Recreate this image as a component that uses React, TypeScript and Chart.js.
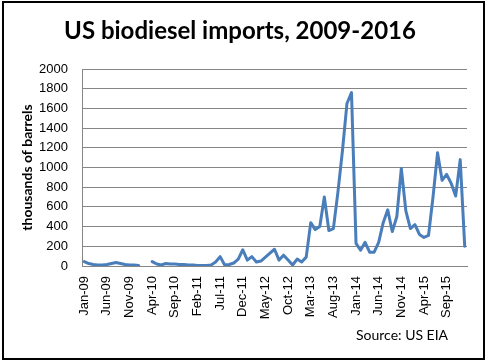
import React, { useEffect, useRef } from "react";
import { Chart, registerables } from "chart.js";

Chart.register(...registerables);

const monthNames = ["Jan", "Feb", "Mar", "Apr", "May", "Jun", "Jul", "Aug", "Sep", "Oct", "Nov", "Dec"];
const yearSuffixes = ["09", "10", "11", "12", "13", "14", "15", "16"];
const monthCount = 85; // Jan-09 .. Jan-16

const categories: string[] = [];
for (let i = 0; i < monthCount; i++) {
  categories.push(monthNames[i % 12] + "-" + yearSuffixes[Math.floor(i / 12)]);
}

// thousands of barrels per month
const imports: (number | null)[] = [
  // 2009
  45, 25, 15, 10, 10, 15, 25, 35, 25, 15, 10, 10,
  // 2010
  5, null, null, 45, 20, 10, 25, 20, 20, 15, 15, 10,
  // 2011
  10, 5, 5, 5, 10, 40, 95, 10, 15, 30, 70, 165,
  // 2012
  60, 95, 40, 50, 90, 130, 170, 60, 110, 60, 10, 70,
  // 2013
  40, 90, 440, 370, 400, 700, 360, 380, 750, 1170, 1650, 1760,
  // 2014
  230, 160, 240, 140, 140, 240, 440, 570, 350, 500, 990, 560,
  // 2015
  380, 420, 320, 290, 310, 700, 1150, 870, 930, 840, 710, 1080,
  // 2016
  200,
];

const yMin = 0;
const yMax = 2000;
const yStep = 200;
const labelEvery = 5;

const titleText = "US biodiesel imports, 2009-2016";
const yAxisTitle = "thousands of barrels";
const sourceText = "Source: US EIA";

const decorPlugin = {
  id: "decor",
  beforeDraw(chart: any) {
    const ctx = chart.ctx;
    ctx.save();
    ctx.fillStyle = "#ffffff";
    ctx.fillRect(0, 0, chart.width, chart.height);
    ctx.restore();
  },
  afterDraw(chart: any) {
    const ctx = chart.ctx;
    ctx.save();
    ctx.strokeStyle = "#000000";
    ctx.lineWidth = 2;
    ctx.strokeRect(3, 2, 481, 357);
    ctx.fillStyle = "#000000";
    ctx.textAlign = "center";
    ctx.textBaseline = "middle";
    ctx.font = "bold 24px Lato";
    ctx.fillText(titleText, 240, 31);
    ctx.font = "14px Lato";
    ctx.textAlign = "left";
    ctx.fillText(sourceText, 356, 335);
    ctx.restore();
  },
};

export default function App() {
  const canvasRef = useRef<HTMLCanvasElement | null>(null);

  useEffect(() => {
    document.body.style.margin = "0";
    const canvas = canvasRef.current;
    if (!canvas) return;
    const chart = new Chart(canvas, {
      type: "line",
      data: {
        labels: categories,
        datasets: [
          {
            data: imports,
            borderColor: "#4A7EBB",
            backgroundColor: "#4A7EBB",
            borderWidth: 3,
            pointRadius: 0,
            tension: 0,
            spanGaps: false,
            borderJoinStyle: "round",
            borderCapStyle: "round",
          },
        ],
      },
      options: {
        responsive: false,
        animation: false,
        events: [],
        layout: { padding: { left: 0, right: 21, top: 69, bottom: 0 } },
        plugins: {
          legend: { display: false },
          tooltip: { enabled: false },
          title: { display: false },
        },
        scales: {
          x: {
            type: "category",
            offset: true,
            grid: { display: false, drawTicks: false },
            border: { display: true, color: "#868686", width: 1 },
            ticks: {
              autoSkip: false,
              maxRotation: 90,
              minRotation: 90,
              padding: 10,
              color: "#000000",
              font: { family: "Liberation Sans", size: 13 },
              callback: (_v: any, idx: number) => (idx % labelEvery === 0 ? categories[idx] : null),
            },
            afterFit: (scale: any) => {
              scale.height = 97;
            },
          },
          y: {
            min: yMin,
            max: yMax,
            grid: { color: "#868686", lineWidth: 1, drawTicks: false },
            border: { display: true, color: "#868686", width: 1 },
            ticks: {
              stepSize: yStep,
              padding: 14,
              color: "#000000",
              font: { family: "Liberation Sans", size: 13 },
              callback: (v: any) => String(v),
            },
            title: {
              display: true,
              text: yAxisTitle,
              color: "#000000",
              font: { family: "Lato", size: 14, weight: "bold" },
              padding: { top: 19, bottom: 0 },
            },
            afterFit: (scale: any) => {
              scale.width = 82;
            },
          },
        },
      },
      plugins: [decorPlugin],
    });
    return () => chart.destroy();
  }, []);

  return <canvas ref={canvasRef} width={488} height={363} style={{ display: "block" }} />;
}
